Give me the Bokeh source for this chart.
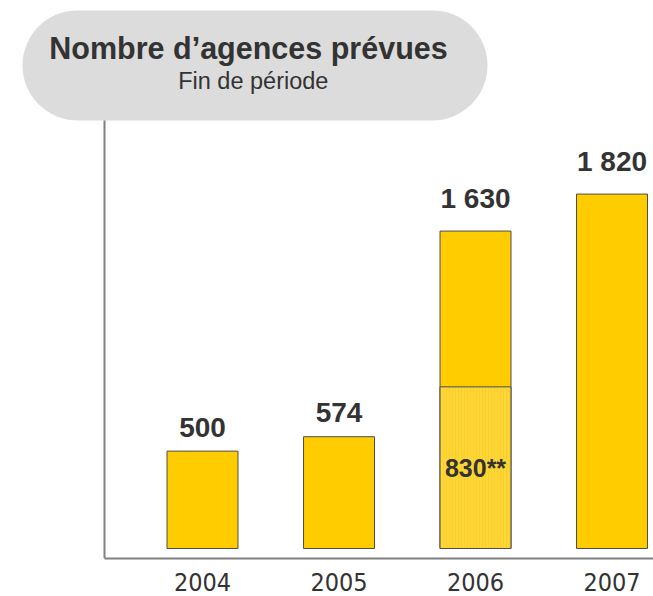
from bokeh.plotting import figure
from bokeh.models import Range1d, FixedTicker, BoxAnnotation, ColumnDataSource
from bokeh.core.properties import value
from bokeh.embed import file_html
from bokeh.resources import INLINE

# ---- data ----
years = ["2004", "2005", "2006", "2007"]
totals = [500, 574, 1630, 1820]
total_labels = ["500", "574", "1 630", "1 820"]
sub_year = "2006"
sub_value = 830
sub_label = "830**"
title = "Nombre d\u2019agences pr\u00e9vues"
subtitle = "Fin de p\u00e9riode"

# ---- styling ----
BAR = "#FFCC00"
BAR_LIGHT = "#FFD63A"
EDGE = "#4d4d4d"
TXT = "#333333"
AXIS = "#808080"
FONT = "Liberation Sans"
BAR_W = 0.52

xs = list(range(len(years)))

p = figure(width=653, height=596,
           x_range=Range1d(-1.480, 3.304), y_range=Range1d(-51.4, 2814),
           output_backend="svg", toolbar_location=None,
           min_border_left=0, min_border_right=0, min_border_top=0,
           min_border_bottom=38, y_axis_location=None)
p.xgrid.visible = False
p.ygrid.visible = False
p.outline_line_color = None
p.background_fill_color = "white"
p.border_fill_color = "white"

ax = p.xaxis[0]
ax.ticker = FixedTicker(ticks=xs)
ax.major_label_overrides = {i: y for i, y in zip(xs, years)}
ax.major_tick_line_color = None
ax.minor_tick_line_color = None
ax.axis_line_color = AXIS
ax.axis_line_width = 2
ax.bounds = (-0.718, 3.304)
ax.major_label_text_font = "DejaVu Sans Condensed, Roboto, sans-serif"
ax.major_label_text_font_size = "25px"
ax.major_label_text_color = TXT
ax.major_label_standoff = 8

# title bubble
bubble = BoxAnnotation(left=-1.319, right=2.088, bottom=2198, top=2763,
                       fill_color="#dcdcdc", fill_alpha=1.0, line_color=None,
                       border_radius=55, level="underlay")
p.add_layout(bubble)

# vertical axis line
p.segment(x0=[-0.718], y0=[-51.4], x1=[-0.718], y1=[2198],
          line_color=AXIS, line_width=2)

# bars
src = ColumnDataSource(dict(x=xs, top=totals, lab=total_labels,
                            dy=[-24 if v < 1000 else -33 for v in totals]))
p.vbar(x="x", top="top", bottom=0, width=BAR_W, source=src,
       fill_color=BAR, line_color=EDGE, line_width=1)

idx = years.index(sub_year)
p.vbar(x=[idx], top=[sub_value], bottom=0, width=BAR_W,
       fill_color=BAR_LIGHT, line_color=EDGE, line_width=1,
       hatch_pattern="|", hatch_color="#F2C400", hatch_alpha=0.35,
       hatch_scale=3, hatch_weight=1)

p.text(x="x", y="top", text="lab", source=src, y_offset="dy",
       text_align="center", text_baseline="alphabetic",
       text_font=value(FONT), text_font_style="bold",
       text_font_size="28px", text_color=TXT)

p.text(x=[idx], y=[sub_value / 2], text=[sub_label],
       text_align="center", text_baseline="middle",
       text_font=value(FONT), text_font_style="bold",
       text_font_size="25px", text_color=TXT)

# title texts
p.text(x=[0.337], y=[2568], text=[title], text_align="center",
       text_baseline="alphabetic", text_font=value(FONT),
       text_font_style="bold", text_font_size="30.5px", text_color=TXT)
p.text(x=[0.372], y=[2400], text=[subtitle], text_align="center",
       text_baseline="alphabetic", text_font=value(FONT),
       text_font_size="23.5px", text_color=TXT)

with open("out.html", "w", encoding="utf-8") as f:
    f.write(file_html(p, INLINE, title="Nombre d'agences"))
